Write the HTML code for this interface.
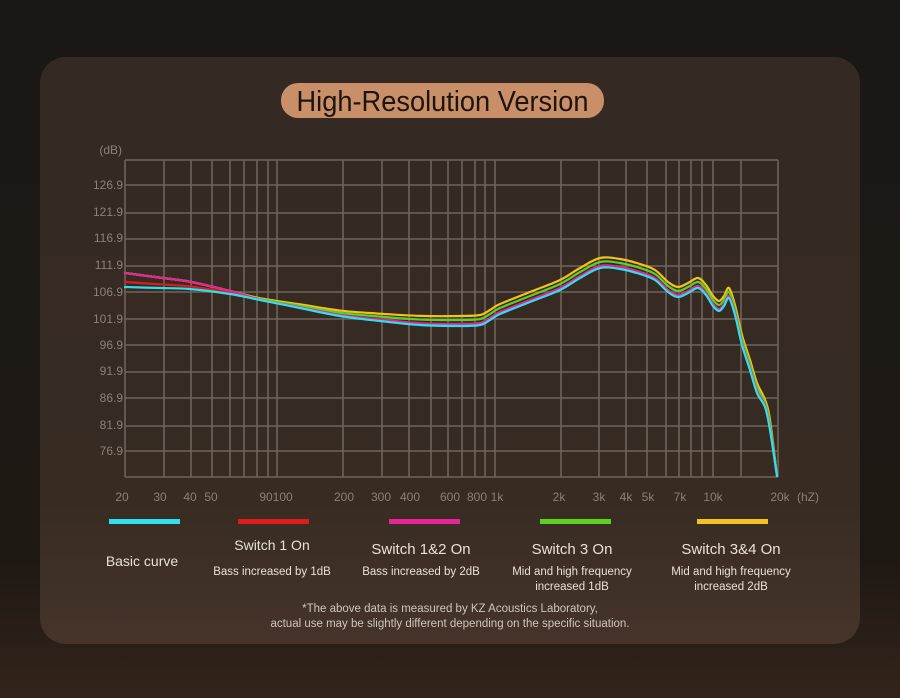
<!DOCTYPE html>
<html><head><meta charset="utf-8">
<style>
html,body{margin:0;padding:0;width:900px;height:698px;overflow:hidden;background:#1a1613;font-family:"Liberation Sans",sans-serif;}
</style></head>
<body>
<svg id="s" width="900" height="698" viewBox="0 0 900 698" xmlns="http://www.w3.org/2000/svg">
<defs>
<linearGradient id="bg" x1="0" y1="0" x2="0" y2="1">
<stop offset="0" stop-color="#1a1714"/><stop offset="0.8" stop-color="#1e1813"/><stop offset="1" stop-color="#33241a"/>
</linearGradient>
<linearGradient id="pn" x1="0" y1="0" x2="0" y2="1">
<stop offset="0" stop-color="#342a23"/><stop offset="0.75" stop-color="#372b22"/><stop offset="1" stop-color="#45342a"/>
</linearGradient>
</defs>
<rect width="900" height="698" fill="url(#bg)"/>
<rect x="40" y="57" width="820" height="587" rx="26" fill="url(#pn)"/>
<rect x="281" y="83" width="323" height="35" rx="17" fill="#c98f68"/>
<text x="442.5" y="111" text-anchor="middle" font-size="29" fill="#1e140e" textLength="292" lengthAdjust="spacingAndGlyphs">High-Resolution Version</text>
<g id="grid" stroke="#6e645b" stroke-width="1.6" fill="none"></g>
<g font-size="12" fill="#8a8179" text-anchor="end">
<text x="122" y="154">(dB)</text>
<text x="123" y="189">126.9</text><text x="123" y="216">121.9</text><text x="123" y="242">116.9</text>
<text x="123" y="269">111.9</text><text x="123" y="296">106.9</text><text x="123" y="323">101.9</text>
<text x="123" y="349">96.9</text><text x="123" y="375">91.9</text><text x="123" y="402">86.9</text>
<text x="123" y="429">81.9</text><text x="123" y="455">76.9</text>
</g>
<g font-size="12" fill="#8a8179" text-anchor="middle">
<text x="122" y="501">20</text><text x="160" y="501">30</text><text x="190" y="501">40</text><text x="211" y="501">50</text>
<text x="276" y="501">90100</text><text x="344" y="501">200</text><text x="381" y="501">300</text><text x="410" y="501">400</text>
<text x="450" y="501">600</text><text x="477" y="501">800</text><text x="497" y="501">1k</text>
<text x="559" y="501">2k</text><text x="599" y="501">3k</text><text x="626" y="501">4k</text><text x="648" y="501">5k</text>
<text x="680" y="501">7k</text><text x="713" y="501">10k</text><text x="780" y="501">20k</text><text x="808" y="501">(hZ)</text>
</g>
<g id="curves" fill="none" stroke-width="2.2" stroke-linejoin="round" stroke-linecap="round"></g>
<rect x="109" y="519" width="71" height="5" fill="#2ee0f0"/>
<rect x="238" y="519" width="71" height="5" fill="#e01b1b"/>
<rect x="389" y="519" width="71" height="5" fill="#e8239a"/>
<rect x="540" y="519" width="71" height="5" fill="#5ad21e"/>
<rect x="697" y="519" width="71" height="5" fill="#f4c21c"/>
<g fill="#e8e0d8" text-anchor="middle">
<text x="142" y="566" font-size="14">Basic curve</text>
<text x="272" y="550" font-size="14">Switch 1 On</text>
<text x="272" y="575" font-size="11.5">Bass increased by 1dB</text>
<text x="421" y="554" font-size="15">Switch 1&amp;2 On</text>
<text x="421" y="575" font-size="11.5">Bass increased by 2dB</text>
<text x="572" y="554" font-size="15">Switch 3 On</text>
<text x="572" y="575" font-size="11.5">Mid and high frequency</text>
<text x="572" y="590" font-size="11.5">increased 1dB</text>
<text x="731" y="554" font-size="15">Switch 3&amp;4 On</text>
<text x="731" y="575" font-size="11.5">Mid and high frequency</text>
<text x="731" y="590" font-size="11.5">increased 2dB</text>
<text x="450" y="612" font-size="11.5" fill="#cfc6bd">*The above data is measured by KZ Acoustics Laboratory,</text>
<text x="450" y="627" font-size="11.5" fill="#cfc6bd">actual use may be slightly different depending on the specific situation.</text>
</g>
</svg>
<script>
var ns="http://www.w3.org/2000/svg";
var g=document.getElementById("grid");
var ys=[160,185,213,239,266,292,319,345,372,398,426,451,477];
var xs=[125,164,191,212,230,244,257,268,277,343,382,409,431,448,462,475,485,495,561,599,626,647,666,679,691,702,713,741,778];
var d="";
ys.forEach(function(y){d+="M125 "+y+"H778";});
xs.forEach(function(x){d+="M"+x+" 160V477";});
var p=document.createElementNS(ns,"path");p.setAttribute("d",d);g.appendChild(p);
var cy=[[125,287],[160,288],[190,289],[230,294],[260,300],[300,308],[340,316],[380,321],[420,325],[460,326],[480,325],[490,320],[500,314],[530,302],[560,290],[580,278],[600,268],[620,269],[640,274],[655,280],[668,292],[678,297],[688,293],[698,288],[706,295],[713,306],[719,311],[724,306],[729,298],[735,315],[742,345],[750,370],[757,393],[765,407],[770,430],[777,476]];
function bassOff(x){ if(x<=125)return 1; if(x>=260)return 0; return (260-x)/135; }
function midOff(x){ if(x<=220)return 0; if(x>=440)return 1; return (x-220)/220; }
function endFade(x){ return x>=770?Math.max(0,(777-x)/7):(x>=757?1-(x-757)/30:1); }
function mk(bass,mid){
 return cy.map(function(p){var x=p[0];var b=bass*bassOff(x),m=mid*midOff(x)*endFade(x);return [x,p[1]-Math.max(b,m)];});
}
function path(pts){
 var s="M"+pts[0][0]+" "+pts[0][1];
 for(var i=0;i<pts.length-1;i++){
  var p0=pts[i-1]||pts[i],p1=pts[i],p2=pts[i+1],p3=pts[i+2]||p2;
  var c1=[p1[0]+(p2[0]-p0[0])/6,p1[1]+(p2[1]-p0[1])/6];
  var c2=[p2[0]-(p3[0]-p1[0])/6,p2[1]-(p3[1]-p1[1])/6];
  s+="C"+c1[0].toFixed(1)+" "+c1[1].toFixed(1)+" "+c2[0].toFixed(1)+" "+c2[1].toFixed(1)+" "+p2[0]+" "+p2[1];
 }
 return s;
}
var series=[[14,10,"#f4c21c"],[14,6,"#5ad21e"],[5,1,"#e01b1b"],[14,2,"#e8239a"],[0,0,"#2ee0f0"]];
var cg=document.getElementById("curves");
series.forEach(function(s){var e=document.createElementNS(ns,"path");e.setAttribute("d",path(mk(s[0],s[1])));e.setAttribute("stroke",s[2]);cg.appendChild(e);});
</script>
</body></html>
